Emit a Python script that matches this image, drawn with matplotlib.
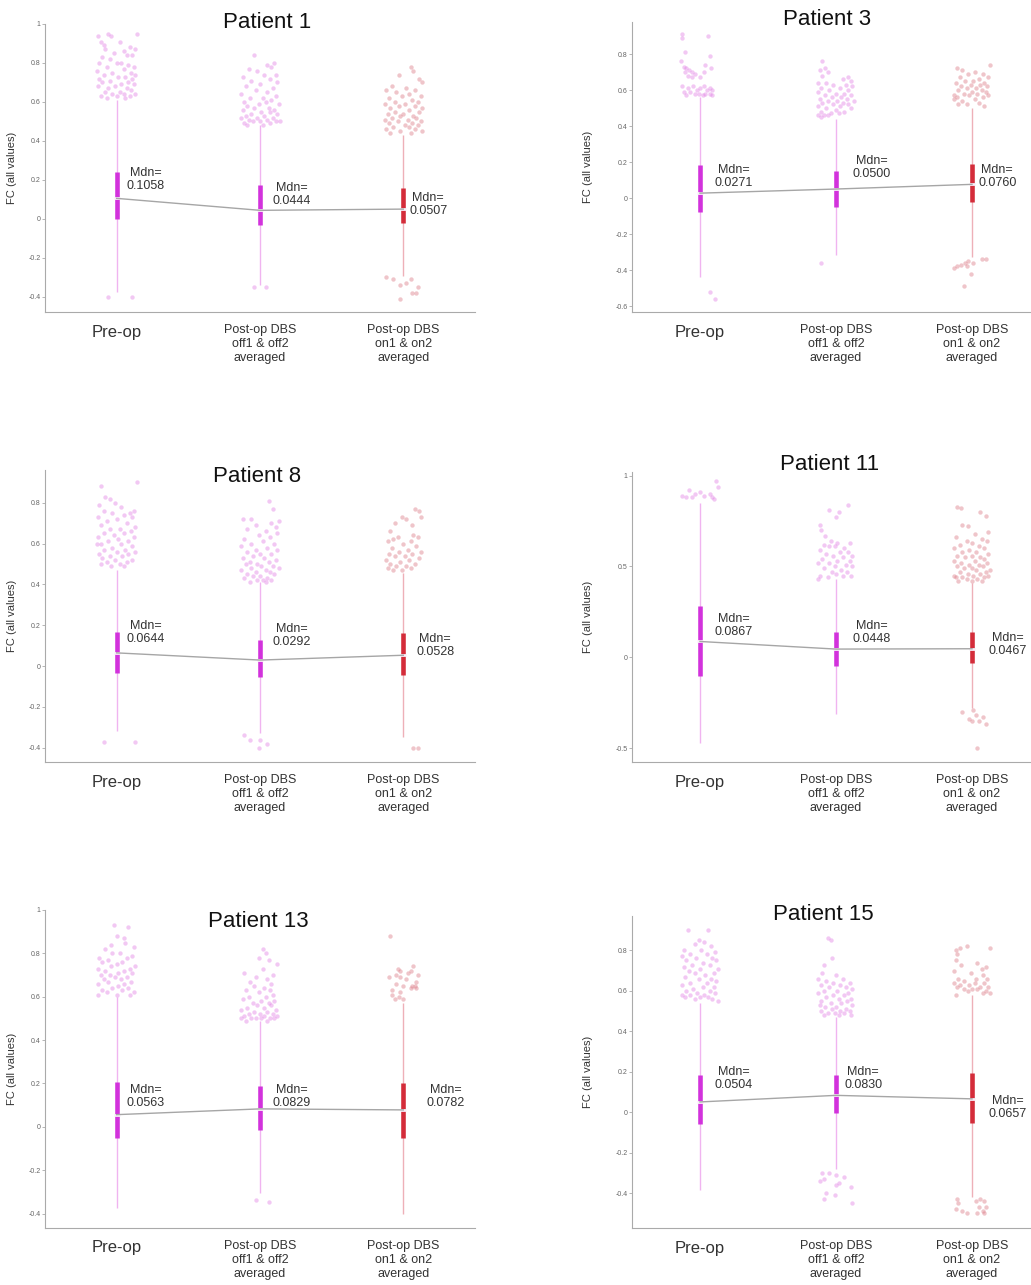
import matplotlib
matplotlib.use('Agg')
import matplotlib.pyplot as plt

plt.rcParams['font.family'] = ['Liberation Sans', 'DejaVu Sans']

# ---- data ----
patients = ['Patient 1', 'Patient 3', 'Patient 8', 'Patient 11', 'Patient 13', 'Patient 15']
groups = ['Pre-op', 'Post-op DBS\noff1 & off2\naveraged', 'Post-op DBS\non1 & on2\naveraged']

medians = [[0.1058, 0.0444, 0.0507],
           [0.0271, 0.0500, 0.0760],
           [0.0644, 0.0292, 0.0528],
           [0.0867, 0.0448, 0.0467],
           [0.0563, 0.0829, 0.0782],
           [0.0504, 0.0830, 0.0657]]
q1 = [[0.00, -0.03, -0.02],
      [-0.078, -0.05, -0.022],
      [-0.035, -0.054, -0.044],
      [-0.105, -0.048, -0.033],
      [-0.05, -0.015, -0.05],
      [-0.058, -0.005, -0.055]]
q3 = [[0.24, 0.174, 0.159],
      [0.183, 0.15, 0.189],
      [0.167, 0.127, 0.162],
      [0.28, 0.14, 0.137],
      [0.207, 0.19, 0.20],
      [0.183, 0.183, 0.193]]
whisk_lo = [[-0.375, -0.34, -0.29],
            [-0.44, -0.317, -0.33],
            [-0.32, -0.33, -0.35],
            [-0.47, -0.31, -0.28],
            [-0.375, -0.305, -0.40],
            [-0.385, -0.28, -0.42]]
whisk_hi = [[0.61, 0.48, 0.43],
            [0.56, 0.44, 0.50],
            [0.47, 0.41, 0.455],
            [0.85, 0.43, 0.41],
            [0.60, 0.49, 0.57],
            [0.54, 0.47, 0.58]]

# outliers: (jitter, value) for each patient / group
p1_pre = [(-0.13,0.94),(-0.06,0.95),(-0.04,0.94),(0.14,0.95),(-0.11,0.91),(-0.09,0.89),(0.02,0.91),(0.09,0.88),
          (0.13,0.87),(-0.08,0.87),(0.05,0.86),(-0.02,0.85),(0.07,0.84),(-0.10,0.83),(0.11,0.84),(-0.05,0.82),
          (0.00,0.80),(0.03,0.80),(0.08,0.79),(-0.12,0.80),(0.12,0.78),(-0.07,0.78),(0.05,0.77),(-0.14,0.76),
          (0.10,0.75),(-0.03,0.75),(0.13,0.74),(-0.09,0.74),(0.06,0.73),(0.01,0.73),(-0.12,0.72),(0.11,0.72),
          (-0.05,0.71),(0.08,0.70),(-0.10,0.70),(0.03,0.69),(0.12,0.69),(-0.01,0.68),(-0.13,0.68),(0.07,0.67),
          (-0.06,0.67),(0.10,0.66),(-0.08,0.65),(0.02,0.65),(0.05,0.64),(-0.03,0.64),(-0.11,0.63),(0.09,0.63),
          (0.00,0.63),(0.13,0.64),(-0.07,0.62),(0.06,0.62),(-0.06,-0.40),(0.11,-0.40)]
p1_off = [(-0.04,0.84),(0.10,0.80),(0.05,0.79),(0.08,0.78),(-0.08,0.77),(-0.02,0.76),(0.11,0.74),(0.03,0.74),
          (-0.12,0.73),(0.07,0.72),(-0.06,0.71),(0.12,0.70),(0.00,0.69),(-0.10,0.68),(0.09,0.67),(-0.03,0.66),
          (0.05,0.65),(-0.13,0.64),(0.11,0.63),(0.02,0.62),(-0.07,0.62),(0.08,0.61),(-0.11,0.60),(0.04,0.60),
          (-0.01,0.59),(0.13,0.59),(-0.09,0.58),(0.06,0.57),(-0.04,0.57),(0.10,0.56),(-0.12,0.56),(0.01,0.55),
          (0.07,0.55),(-0.06,0.54),(0.12,0.54),(-0.10,0.53),(0.03,0.53),(-0.02,0.52),(0.09,0.52),(-0.13,0.52),
          (0.05,0.51),(-0.08,0.51),(0.11,0.50),(0.00,0.50),(-0.05,0.50),(0.14,0.50),(-0.11,0.49),(0.07,0.49),
          (0.02,0.48),(-0.09,0.48),(-0.04,-0.35),(0.04,-0.35)]
p1_on = [(0.05,0.78),(0.07,0.76),(-0.03,0.74),(0.11,0.72),(0.13,0.70),(-0.08,0.68),(0.02,0.67),(-0.12,0.66),
         (0.08,0.66),(-0.05,0.65),(0.04,0.64),(-0.01,0.63),(0.12,0.63),(-0.10,0.62),(0.06,0.61),(-0.06,0.60),
         (0.10,0.60),(0.01,0.59),(-0.13,0.59),(0.08,0.58),(-0.03,0.58),(0.13,0.57),(-0.09,0.57),(0.04,0.56),
         (-0.06,0.55),(0.11,0.55),(0.00,0.54),(-0.11,0.54),(0.07,0.53),(-0.02,0.53),(0.09,0.52),(-0.08,0.52),
         (0.03,0.51),(-0.13,0.51),(0.12,0.50),(-0.04,0.50),(0.06,0.49),(-0.10,0.49),(0.01,0.48),(0.10,0.48),
         (-0.07,0.47),(0.04,0.47),(-0.12,0.46),(0.08,0.46),(-0.02,0.45),(0.13,0.45),(-0.09,0.44),(0.05,0.44),
         (-0.12,-0.30),(-0.07,-0.31),(0.05,-0.31),(0.02,-0.33),(-0.02,-0.34),(0.10,-0.35),(0.09,-0.38),
         (0.06,-0.38),(-0.02,-0.41)]

p3_pre = [(-0.13,0.91),(-0.13,0.89),(0.06,0.90),(-0.11,0.81),(0.07,0.79),(-0.14,0.76),(0.04,0.74),(-0.12,0.73),
          (-0.10,0.72),(-0.08,0.71),(-0.06,0.70),(-0.11,0.70),(-0.04,0.69),(-0.09,0.68),(0.03,0.70),(0.00,0.67),
          (-0.06,0.67),(0.08,0.72),(-0.13,0.62),(-0.09,0.61),(-0.05,0.62),(-0.02,0.60),(0.00,0.61),(0.03,0.62),
          (0.05,0.60),(0.07,0.61),(0.09,0.60),(-0.12,0.59),(-0.07,0.59),(-0.01,0.58),(0.04,0.58),(0.09,0.57),
          (-0.10,0.57),(0.02,0.57),(-0.04,0.58),(0.07,0.58),(0.07,-0.52),(0.11,-0.56)]
p3_off = [(-0.10,0.76),(-0.08,0.72),(-0.12,0.71),(-0.06,0.70),(-0.10,0.68),(0.09,0.67),(0.05,0.66),(0.11,0.65),
          (-0.13,0.64),(-0.07,0.64),(-0.02,0.63),(0.07,0.63),(0.12,0.62),(-0.11,0.61),(0.03,0.61),(-0.05,0.60),
          (0.09,0.60),(-0.13,0.59),(0.00,0.58),(0.06,0.58),(-0.08,0.57),(0.11,0.57),(-0.03,0.56),(0.04,0.56),
          (-0.12,0.55),(0.08,0.55),(0.01,0.54),(-0.06,0.54),(0.13,0.54),(-0.10,0.53),(0.05,0.53),(-0.02,0.52),
          (0.09,0.52),(-0.13,0.51),(0.03,0.51),(-0.07,0.50),(0.11,0.50),(0.00,0.49),(-0.11,0.48),(0.06,0.48),
          (-0.04,0.47),(-0.13,0.46),(-0.09,0.46),(-0.06,0.46),(0.02,0.47),(-0.11,0.45),(-0.11,-0.36)]
p3_on = [(0.13,0.74),(-0.11,0.72),(-0.07,0.71),(0.02,0.70),(0.08,0.69),(-0.03,0.69),(0.12,0.67),(-0.09,0.67),
         (0.05,0.66),(-0.05,0.65),(0.01,0.65),(-0.12,0.64),(0.09,0.64),(-0.01,0.63),(0.06,0.63),(-0.08,0.62),
         (0.11,0.62),(0.03,0.61),(-0.04,0.61),(0.07,0.60),(-0.10,0.60),(0.00,0.59),(0.10,0.59),(-0.06,0.58),
         (0.04,0.58),(-0.13,0.57),(0.12,0.57),(-0.02,0.57),(0.08,0.56),(-0.11,0.56),(-0.13,0.55),(0.02,0.55),
         (-0.07,0.54),(0.05,0.53),(-0.04,0.52),(0.09,0.51),(-0.10,0.52),
         (-0.13,-0.39),(-0.11,-0.38),(-0.08,-0.37),(-0.05,-0.36),(-0.03,-0.35),(0.01,-0.36),(0.07,-0.34),
         (0.10,-0.34),(-0.04,-0.38),(-0.01,-0.42),(-0.06,-0.49)]

p8_pre = [(-0.11,0.88),(0.14,0.90),(-0.08,0.83),(-0.05,0.82),(-0.01,0.80),(0.03,0.78),(-0.12,0.79),(0.12,0.76),
          (-0.09,0.76),(0.09,0.75),(-0.03,0.75),(0.05,0.74),(-0.13,0.73),(0.11,0.73),(0.00,0.72),(-0.07,0.71),
          (0.07,0.70),(-0.11,0.69),(0.13,0.68),(0.02,0.67),(-0.05,0.67),(0.10,0.66),(-0.09,0.65),(0.05,0.65),
          (-0.02,0.64),(-0.13,0.63),(0.12,0.63),(0.01,0.62),(-0.06,0.61),(0.08,0.61),(-0.11,0.60),(0.03,0.60),
          (-0.14,0.60),(0.11,0.59),(-0.03,0.58),(0.06,0.57),(-0.09,0.57),(0.13,0.56),(0.00,0.56),(-0.12,0.55),
          (0.08,0.55),(-0.05,0.54),(0.04,0.54),(-0.10,0.53),(0.11,0.52),(-0.01,0.52),(0.07,0.51),(-0.07,0.51),
          (0.02,0.50),(-0.11,0.50),(0.05,0.49),(-0.04,0.49),(-0.09,-0.37),(0.13,-0.37)]
p8_off = [(0.06,0.81),(0.09,0.77),(-0.12,0.72),(-0.06,0.72),(0.13,0.71),(0.08,0.70),(-0.03,0.69),(0.11,0.68),
          (-0.09,0.67),(0.04,0.66),(0.12,0.65),(-0.01,0.64),(0.07,0.63),(-0.11,0.62),(0.02,0.61),(-0.06,0.60),
          (0.10,0.60),(-0.13,0.59),(0.05,0.58),(-0.03,0.57),(0.12,0.57),(-0.09,0.56),(0.00,0.55),(0.08,0.55),
          (-0.05,0.54),(-0.12,0.53),(0.03,0.53),(0.11,0.52),(-0.07,0.51),(0.06,0.51),(-0.02,0.50),(-0.10,0.50),
          (0.09,0.49),(0.01,0.49),(-0.06,0.48),(0.13,0.48),(-0.13,0.47),(0.04,0.47),(-0.03,0.46),(0.07,0.46),
          (-0.09,0.45),(0.10,0.45),(0.00,0.44),(-0.05,0.44),(0.05,0.43),(-0.11,0.43),(0.02,0.42),(-0.02,0.42),
          (0.08,0.42),(-0.07,0.41),(0.04,0.41),
          (-0.11,-0.34),(-0.07,-0.36),(0.00,-0.36),(0.05,-0.38),(-0.01,-0.40)]
p8_on = [(0.08,0.77),(0.11,0.76),(-0.01,0.73),(0.02,0.72),(0.12,0.73),(-0.06,0.70),(0.06,0.69),(-0.09,0.66),
         (0.07,0.64),(-0.04,0.63),(0.10,0.63),(-0.07,0.62),(0.05,0.61),(-0.11,0.61),(0.00,0.60),(0.09,0.59),
         (-0.08,0.58),(0.03,0.57),(-0.03,0.56),(0.12,0.56),(-0.10,0.55),(0.06,0.55),(0.01,0.54),(-0.06,0.54),
         (0.11,0.53),(-0.12,0.52),(0.04,0.52),(-0.02,0.51),(0.08,0.50),(-0.09,0.50),(-0.05,0.49),(0.02,0.49),
         (-0.11,0.48),(0.05,0.48),(-0.07,0.47),(-0.01,0.47),(0.07,-0.40),(0.10,-0.40)]

p11_pre = [(-0.13,0.89),(-0.10,0.88),(-0.08,0.92),(-0.04,0.90),(0.00,0.91),(0.03,0.89),(0.07,0.90),(0.09,0.88),
           (0.12,0.97),(0.13,0.94),(0.10,0.87),(-0.06,0.88)]
p11_off = [(0.09,0.84),(-0.05,0.81),(0.02,0.80),(0.00,0.77),(-0.12,0.73),(-0.11,0.70),(-0.08,0.67),(-0.04,0.64),
           (0.01,0.63),(0.10,0.63),(-0.09,0.62),(-0.05,0.61),(-0.01,0.61),(0.06,0.60),(-0.12,0.59),(0.03,0.58),
           (0.09,0.58),(-0.07,0.57),(0.12,0.56),(-0.02,0.56),(0.05,0.55),(-0.10,0.54),(0.01,0.53),(0.10,0.53),
           (-0.05,0.52),(-0.13,0.52),(0.07,0.51),(-0.01,0.50),(0.12,0.50),(-0.09,0.49),(0.04,0.48),(-0.03,0.47),
           (0.08,0.47),(0.00,0.46),(0.11,0.45),(-0.12,0.45),(0.05,0.45),(-0.06,0.44),(-0.13,0.43)]
p11_on = [(-0.11,0.83),(-0.08,0.82),(0.06,0.80),(0.10,0.78),(-0.07,0.73),(-0.03,0.72),(0.12,0.69),(0.02,0.68),
          (-0.12,0.66),(0.07,0.65),(-0.04,0.64),(0.11,0.64),(0.00,0.63),(-0.09,0.62),(0.05,0.61),(-0.13,0.60),
          (0.09,0.60),(-0.02,0.59),(0.03,0.58),(-0.07,0.58),(0.12,0.57),(-0.11,0.56),(0.00,0.56),(0.06,0.55),
          (-0.05,0.55),(0.09,0.54),(-0.13,0.53),(0.02,0.53),(-0.08,0.52),(0.11,0.52),(-0.02,0.51),(0.05,0.51),
          (-0.11,0.50),(0.08,0.50),(0.00,0.49),(-0.06,0.49),(0.13,0.48),(0.03,0.48),(-0.09,0.47),(0.10,0.47),
          (-0.03,0.46),(0.06,0.46),(-0.13,0.45),(-0.12,0.44),(0.01,0.45),(-0.07,0.44),(0.09,0.44),(0.12,0.45),
          (-0.04,0.43),(0.04,0.43),(-0.10,0.42),(0.07,0.42),(0.00,0.42),
          (-0.07,-0.30),(0.01,-0.29),(0.03,-0.32),(0.08,-0.33),(-0.02,-0.34),(0.00,-0.35),(0.05,-0.35),
          (0.10,-0.37),(0.04,-0.50)]

p13_pre = [(-0.02,0.93),(0.08,0.92),(0.00,0.88),(0.05,0.87),(0.06,0.85),(-0.04,0.84),(0.12,0.83),(-0.08,0.82),
           (-0.03,0.80),(0.02,0.80),(0.11,0.79),(-0.12,0.78),(0.07,0.78),(-0.06,0.77),(0.04,0.76),(-0.10,0.76),
           (0.00,0.75),(0.13,0.74),(-0.04,0.74),(0.09,0.73),(-0.13,0.73),(0.05,0.72),(-0.08,0.72),(0.01,0.71),
           (0.11,0.71),(-0.05,0.70),(-0.11,0.70),(0.07,0.69),(-0.01,0.69),(0.03,0.68),(-0.09,0.68),(0.10,0.67),
           (-0.06,0.67),(0.05,0.66),(-0.13,0.66),(0.01,0.65),(-0.03,0.64),(0.08,0.64),(-0.10,0.63),(0.04,0.63),
           (0.12,0.62),(-0.07,0.62),(-0.13,0.61),(0.00,0.61),(0.09,0.61)]
p13_off = [(0.02,0.82),(0.04,0.80),(-0.01,0.78),(0.06,0.77),(0.12,0.75),(0.02,0.73),(-0.11,0.71),(0.09,0.70),
           (-0.03,0.69),(0.05,0.68),(-0.07,0.67),(0.08,0.66),(-0.04,0.65),(0.03,0.64),(-0.10,0.63),(0.07,0.63),
           (-0.01,0.62),(0.09,0.61),(-0.08,0.60),(0.04,0.60),(-0.12,0.59),(0.01,0.58),(0.10,0.58),(-0.05,0.57),
           (0.06,0.57),(-0.02,0.56),(0.08,0.56),(-0.09,0.55),(0.03,0.55),(-0.13,0.54),(0.11,0.54),(-0.04,0.53),
           (0.05,0.53),(0.00,0.52),(-0.08,0.52),(0.09,0.52),(-0.11,0.51),(0.03,0.51),(0.12,0.51),(-0.06,0.50),
           (0.07,0.50),(-0.13,0.50),(0.01,0.50),(0.10,0.50),(-0.03,0.50),(-0.10,0.49),(0.05,0.49),
           (-0.03,-0.335),(0.06,-0.345)]
p13_on = [(-0.09,0.88),(0.07,0.74),(-0.04,0.73),(-0.02,0.72),(0.05,0.72),(0.03,0.71),(-0.05,0.70),(0.10,0.70),
          (-0.10,0.69),(-0.02,0.69),(0.02,0.68),(0.09,0.67),(-0.05,0.66),(0.06,0.65),(0.00,0.65),(0.09,0.64),
          (0.05,0.64),(-0.08,0.63),(-0.02,0.62),(-0.08,0.61),(-0.03,0.60),(0.00,0.59),(-0.06,0.59),(0.08,0.65)]

p15_pre = [(-0.09,0.90),(0.06,0.90),(-0.01,0.85),(0.03,0.84),(-0.04,0.83),(0.08,0.82),(-0.12,0.80),(0.01,0.80),
           (0.11,0.79),(-0.07,0.78),(0.05,0.78),(-0.13,0.77),(0.09,0.76),(-0.03,0.76),(0.12,0.75),(-0.10,0.75),
           (0.02,0.74),(-0.06,0.73),(0.07,0.73),(-0.12,0.72),(0.13,0.71),(0.00,0.71),(-0.08,0.70),(0.10,0.69),
           (-0.04,0.69),(0.04,0.68),(-0.11,0.67),(0.08,0.66),(-0.01,0.66),(0.12,0.65),(-0.07,0.64),(0.05,0.64),
           (-0.13,0.63),(0.02,0.62),(0.10,0.62),(-0.05,0.61),(-0.10,0.60),(0.07,0.60),(-0.02,0.59),(0.11,0.59),
           (-0.13,0.58),(0.03,0.58),(-0.07,0.58),(0.06,0.57),(-0.11,0.57),(0.00,0.57),(0.09,0.56),(-0.04,0.56),
           (0.13,0.55)]
p15_off = [(-0.06,0.86),(-0.04,0.85),(-0.09,0.73),(-0.03,0.76),(-0.10,0.69),(0.00,0.68),(-0.13,0.66),(-0.07,0.65),
           (0.05,0.66),(-0.02,0.64),(0.10,0.64),(-0.11,0.63),(0.03,0.63),(0.07,0.62),(-0.05,0.62),(0.12,0.61),
           (-0.09,0.60),(0.01,0.60),(0.09,0.59),(-0.13,0.59),(-0.02,0.58),(0.06,0.58),(-0.07,0.57),(0.11,0.56),
           (0.02,0.56),(-0.11,0.55),(0.08,0.55),(-0.04,0.54),(0.04,0.54),(-0.12,0.53),(0.12,0.53),(0.00,0.52),
           (-0.08,0.52),(0.07,0.51),(-0.03,0.51),(0.10,0.50),(-0.11,0.50),(0.03,0.50),(-0.06,0.49),(0.06,0.49),
           (-0.01,0.49),(0.11,0.48),(-0.09,0.48),(0.02,0.48),
           (-0.10,-0.30),(-0.05,-0.30),(0.00,-0.31),(0.06,-0.32),(-0.09,-0.33),(0.02,-0.35),(0.00,-0.36),
           (0.11,-0.37),(-0.12,-0.34),(-0.07,-0.40),(-0.01,-0.41),(-0.09,-0.43),(0.12,-0.45)]
p15_on = [(-0.12,0.80),(-0.09,0.81),(-0.04,0.82),(0.13,0.81),(-0.11,0.78),(-0.12,0.75),(0.04,0.74),(-0.08,0.73),
          (0.10,0.72),(0.07,0.71),(-0.13,0.70),(-0.01,0.69),(0.08,0.68),(-0.10,0.66),(0.03,0.66),(0.11,0.66),
          (-0.06,0.65),(-0.13,0.64),(0.02,0.64),(0.09,0.64),(-0.09,0.63),(-0.02,0.63),(0.06,0.62),(-0.11,0.62),
          (0.12,0.62),(0.00,0.61),(-0.06,0.61),(0.10,0.60),(-0.03,0.60),(0.04,0.61),(0.13,0.59),(-0.12,0.58),
          (0.08,0.59),
          (-0.11,-0.43),(-0.10,-0.45),(-0.07,-0.49),(-0.04,-0.50),(-0.12,-0.48),(0.03,-0.44),(0.06,-0.43),
          (0.09,-0.44),(0.10,-0.47),(0.05,-0.47),(0.08,-0.49),(0.09,-0.50),(0.04,-0.50)]

outliers = [[p1_pre, p1_off, p1_on],
            [p3_pre, p3_off, p3_on],
            [p8_pre, p8_off, p8_on],
            [p11_pre, p11_off, p11_on],
            [p13_pre, p13_off, p13_on],
            [p15_pre, p15_off, p15_on]]

# ---- layout (pixels of the 1031x1285 canvas) ----
W, H = 1031, 1285
panel_rect = [(45, 24, 475, 312), (632, 21.6, 1040, 312),
              (45, 470, 475, 762), (632, 472, 1040, 762),
              (45, 910, 475, 1227.7), (632, 916, 1040, 1228)]
panel_ylim = [(-0.477, 1.0), (-0.633, 0.98), (-0.47, 0.96),
              (-0.577, 1.02), (-0.465, 1.0), (-0.573, 0.97)]
panel_ticks = [[-0.4, -0.2, 0, 0.2, 0.4, 0.6, 0.8, 1],
               [-0.6, -0.4, -0.2, 0, 0.2, 0.4, 0.6, 0.8],
               [-0.4, -0.2, 0, 0.2, 0.4, 0.6, 0.8],
               [-0.5, 0, 0.5, 1],
               [-0.4, -0.2, 0, 0.2, 0.4, 0.6, 0.8, 1],
               [-0.4, -0.2, 0, 0.2, 0.4, 0.6, 0.8]]
title_px = [(267, 28), (827, 25), (257, 482), (830, 470), (258, 927), (823, 920)]
# Mdn label: (x offset from group, y of first line)
mdn_pos = [[(0.07, 0.241), (0.09, 0.164), (0.04, 0.113)],
           [(0.11, 0.161), (0.12, 0.211), (0.045, 0.161)],
           [(0.07, 0.200), (0.09, 0.186), (0.09, 0.137)],
           [(0.11, 0.215), (0.12, 0.176), (0.12, 0.110)],
           [(0.07, 0.176), (0.09, 0.176), (0.16, 0.176)],
           [(0.11, 0.203), (0.06, 0.203), (0.12, 0.060)]]

box_col = ['#d232dc', '#d232dc', '#d42c3a']
whisk_col = ['#f0b4f0', '#f0b4f0', '#eeb0b8']
dot_col = ['#e07ee4', '#e07ee4', '#da7682']

fig = plt.figure(figsize=(W / 100, H / 100), dpi=100)
positions = [1, 2, 3]

for p in range(6):
    l, t, r, b = panel_rect[p]
    ax = fig.add_axes([l / W, 1 - b / H, (r - l) / W, (b - t) / H])
    ax.set_xlim(0.5, 3.5)
    ax.set_ylim(*panel_ylim[p])

    for g in range(3):
        x = positions[g]
        ax.vlines(x, whisk_lo[p][g], whisk_hi[p][g], color=whisk_col[g], lw=1.0, zorder=2)
        pts = outliers[p][g]
        ax.scatter([x + d for d, v in pts], [v for d, v in pts], s=10, color=dot_col[g],
                   alpha=0.42, linewidths=0, zorder=3)
        ax.vlines(x, q1[p][g], q3[p][g], color=box_col[g], lw=3.3, zorder=4)
        ax.plot([x], [medians[p][g]], marker='_', ms=4, mew=2.0, color='#f8eef8', zorder=5)
        dx, yt = mdn_pos[p][g]
        ax.annotate('Mdn=\n%.4f' % medians[p][g], xy=(x + dx, yt), xytext=(0, -5.4),
                    textcoords='offset points', ha='left', va='center', fontsize=9,
                    color='#333333', multialignment='center', linespacing=1.15, zorder=6)

    ax.plot(positions, medians[p], color='#a6a6a6', lw=1.0, zorder=6)

    for s in ['top', 'right']:
        ax.spines[s].set_visible(False)
    for s in ['left', 'bottom']:
        ax.spines[s].set_color('#aaaaaa')
        ax.spines[s].set_linewidth(0.8)

    ax.set_yticks(panel_ticks[p])
    ax.set_yticklabels(['%g' % v for v in panel_ticks[p]])
    ax.tick_params(axis='y', length=2, width=0.6, colors='#aaaaaa', labelcolor='#666666',
                   labelsize=5, pad=1)
    ax.set_xticks(positions)
    ax.set_xticklabels(groups)
    ax.tick_params(axis='x', length=0, pad=9, labelcolor='#333333')
    for i, lab in enumerate(ax.get_xticklabels()):
        lab.set_fontsize(12 if i == 0 else 9)
        lab.set_linespacing(1.2)

    ax.set_ylabel('FC (all values)', fontsize=8, color='#333333')
    lab_off = 28 if l < 500 else 39
    ax.yaxis.set_label_coords(-lab_off / (r - l), 0.5)

    tx, ty = title_px[p]
    fig.text(tx / W, 1 - ty / H, patients[p], ha='center', va='baseline',
             fontsize=16, color='#111111')

fig.savefig('out.png', dpi=100)
